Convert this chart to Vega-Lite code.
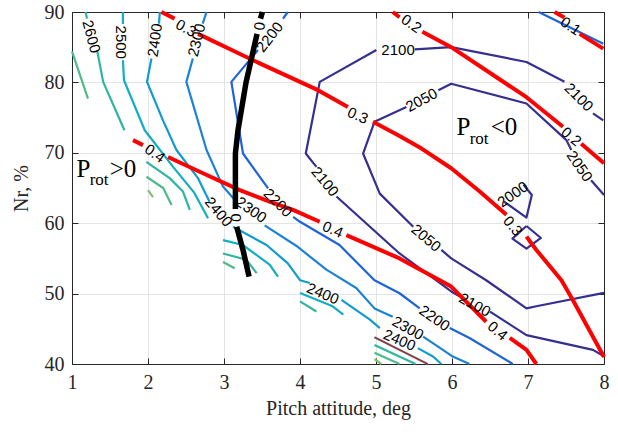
{
  "$schema": "https://vega.github.io/schema/vega-lite/v6.json",
  "width": 532,
  "height": 352,
  "autosize": {"type": "none"},
  "padding": {"left": 72, "top": 12, "right": 14, "bottom": 70},
  "background": "white",
  "config": {"view": {"stroke": null}, "text": {"font": "Liberation Sans", "fontSize": 15, "align": "center", "baseline": "middle", "color": "#000000"}},
  "datasets": {
    "contours": [
      {"lvl": "2100", "seg": "2100a", "x": 7.855, "y": 75.6}, {"lvl": "2100", "seg": "2100a", "x": 7.99, "y": 74.6},
      {"lvl": "2100", "seg": "2100b", "x": 7.48, "y": 80.1}, {"lvl": "2100", "seg": "2100b", "x": 6.98, "y": 82.9}, {"lvl": "2100", "seg": "2100b", "x": 5.99, "y": 85.0}, {"lvl": "2100", "seg": "2100b", "x": 5.51, "y": 84.7},
      {"lvl": "2100", "seg": "2100c", "x": 5.005, "y": 84.6}, {"lvl": "2100", "seg": "2100c", "x": 4.26, "y": 80.07}, {"lvl": "2100", "seg": "2100c", "x": 4.076, "y": 69.9}, {"lvl": "2100", "seg": "2100c", "x": 4.216, "y": 68.0},
      {"lvl": "2100", "seg": "2100d", "x": 4.48, "y": 63.8}, {"lvl": "2100", "seg": "2100d", "x": 5.31, "y": 55.7}, {"lvl": "2100", "seg": "2100d", "x": 5.99, "y": 50.3}, {"lvl": "2100", "seg": "2100d", "x": 6.10, "y": 49.6},
      {"lvl": "2100", "seg": "2100e", "x": 6.50, "y": 47.45}, {"lvl": "2100", "seg": "2100e", "x": 6.98, "y": 44.1}, {"lvl": "2100", "seg": "2100e", "x": 7.855, "y": 42.0}, {"lvl": "2100", "seg": "2100e", "x": 8.0, "y": 41.1},
      {"lvl": "2050", "seg": "2050a", "x": 8.0, "y": 64.0}, {"lvl": "2050", "seg": "2050a", "x": 7.83, "y": 66.1},
      {"lvl": "2050", "seg": "2050b", "x": 7.57, "y": 70.4}, {"lvl": "2050", "seg": "2050b", "x": 7.505, "y": 71.8}, {"lvl": "2050", "seg": "2050b", "x": 6.98, "y": 77.0}, {"lvl": "2050", "seg": "2050b", "x": 5.99, "y": 79.8}, {"lvl": "2050", "seg": "2050b", "x": 5.82, "y": 78.9},
      {"lvl": "2050", "seg": "2050c", "x": 5.40, "y": 76.5}, {"lvl": "2050", "seg": "2050c", "x": 4.98, "y": 74.4}, {"lvl": "2050", "seg": "2050c", "x": 4.83, "y": 69.9}, {"lvl": "2050", "seg": "2050c", "x": 5.05, "y": 64.2}, {"lvl": "2050", "seg": "2050c", "x": 5.49, "y": 59.5},
      {"lvl": "2050", "seg": "2050d", "x": 5.86, "y": 56.2}, {"lvl": "2050", "seg": "2050d", "x": 5.99, "y": 55.0}, {"lvl": "2050", "seg": "2050d", "x": 6.45, "y": 51.9}, {"lvl": "2050", "seg": "2050d", "x": 6.98, "y": 47.9}, {"lvl": "2050", "seg": "2050d", "x": 7.11, "y": 48.2}, {"lvl": "2050", "seg": "2050d", "x": 8.0, "y": 50.1},
      {"lvl": "2000", "seg": "2000a", "x": 6.94, "y": 65.5}, {"lvl": "2000", "seg": "2000a", "x": 7.05, "y": 64.0}, {"lvl": "2000", "seg": "2000a", "x": 6.98, "y": 60.8}, {"lvl": "2000", "seg": "2000a", "x": 6.68, "y": 63.1},
      {"lvl": "2000", "seg": "2000b", "x": 6.98, "y": 59.6}, {"lvl": "2000", "seg": "2000b", "x": 7.17, "y": 57.9}, {"lvl": "2000", "seg": "2000b", "x": 6.98, "y": 56.4}, {"lvl": "2000", "seg": "2000b", "x": 6.795, "y": 57.8}, {"lvl": "2000", "seg": "2000b", "x": 6.98, "y": 59.6},
      {"lvl": "2200", "seg": "2200a", "x": 3.84, "y": 90}, {"lvl": "2200", "seg": "2200a", "x": 3.776, "y": 89.06},
      {"lvl": "2200", "seg": "2200b", "x": 3.447, "y": 84.6}, {"lvl": "2200", "seg": "2200b", "x": 3.097, "y": 80.07}, {"lvl": "2200", "seg": "2200b", "x": 3.25, "y": 69.9}, {"lvl": "2200", "seg": "2200b", "x": 3.58, "y": 64.95},
      {"lvl": "2200", "seg": "2200c", "x": 3.91, "y": 60.9}, {"lvl": "2200", "seg": "2200c", "x": 4.0, "y": 60.2}, {"lvl": "2200", "seg": "2200c", "x": 4.52, "y": 56.9}, {"lvl": "2200", "seg": "2200c", "x": 4.98, "y": 51.9}, {"lvl": "2200", "seg": "2200c", "x": 5.31, "y": 50.05}, {"lvl": "2200", "seg": "2200c", "x": 5.575, "y": 47.9},
      {"lvl": "2200", "seg": "2200d", "x": 5.97, "y": 45.1}, {"lvl": "2200", "seg": "2200d", "x": 6.23, "y": 43.7}, {"lvl": "2200", "seg": "2200d", "x": 6.80, "y": 40.0},
      {"lvl": "2200", "seg": "2200e", "x": 7.14, "y": 90}, {"lvl": "2200", "seg": "2200e", "x": 7.99, "y": 85.5},
      {"lvl": "2300", "seg": "2300a", "x": 2.77, "y": 90}, {"lvl": "2300", "seg": "2300a", "x": 2.72, "y": 88.35},
      {"lvl": "2300", "seg": "2300b", "x": 2.59, "y": 83.4}, {"lvl": "2300", "seg": "2300b", "x": 2.505, "y": 80.07}, {"lvl": "2300", "seg": "2300b", "x": 2.77, "y": 70.4}, {"lvl": "2300", "seg": "2300b", "x": 2.987, "y": 65.2}, {"lvl": "2300", "seg": "2300b", "x": 3.163, "y": 63.05},
      {"lvl": "2300", "seg": "2300c", "x": 3.535, "y": 59.7}, {"lvl": "2300", "seg": "2300c", "x": 3.95, "y": 56.8}, {"lvl": "2300", "seg": "2300c", "x": 4.347, "y": 53.4}, {"lvl": "2300", "seg": "2300c", "x": 4.74, "y": 50.8}, {"lvl": "2300", "seg": "2300c", "x": 4.98, "y": 47.9}, {"lvl": "2300", "seg": "2300c", "x": 5.22, "y": 46.7},
      {"lvl": "2300", "seg": "2300d", "x": 5.62, "y": 43.9}, {"lvl": "2300", "seg": "2300d", "x": 5.88, "y": 42.0}, {"lvl": "2300", "seg": "2300d", "x": 6.01, "y": 41.05}, {"lvl": "2300", "seg": "2300d", "x": 6.23, "y": 40.0},
      {"lvl": "2400", "seg": "2400a", "x": 2.155, "y": 90}, {"lvl": "2400", "seg": "2400a", "x": 2.145, "y": 88.35},
      {"lvl": "2400", "seg": "2400b", "x": 2.045, "y": 83.4}, {"lvl": "2400", "seg": "2400b", "x": 1.987, "y": 80.07}, {"lvl": "2400", "seg": "2400b", "x": 2.197, "y": 74.6}, {"lvl": "2400", "seg": "2400b", "x": 2.374, "y": 70.4}, {"lvl": "2400", "seg": "2400b", "x": 2.658, "y": 66.4}, {"lvl": "2400", "seg": "2400b", "x": 2.81, "y": 63.05},
      {"lvl": "2400", "seg": "2400c", "x": 3.12, "y": 59.5}, {"lvl": "2400", "seg": "2400c", "x": 3.56, "y": 56.9}, {"lvl": "2400", "seg": "2400c", "x": 3.84, "y": 54.3}, {"lvl": "2400", "seg": "2400c", "x": 4.0, "y": 51.9}, {"lvl": "2400", "seg": "2400c", "x": 4.13, "y": 51.5},
      {"lvl": "2400", "seg": "2400d", "x": 4.545, "y": 49.1}, {"lvl": "2400", "seg": "2400d", "x": 4.92, "y": 46.3}, {"lvl": "2400", "seg": "2400d", "x": 5.05, "y": 45.1},
      {"lvl": "2400", "seg": "2400e", "x": 5.55, "y": 42.25}, {"lvl": "2400", "seg": "2400e", "x": 5.75, "y": 41.06}, {"lvl": "2400", "seg": "2400e", "x": 5.86, "y": 40.0},
      {"lvl": "2500", "seg": "2500a", "x": 1.67, "y": 90}, {"lvl": "2500", "seg": "2500a", "x": 1.67, "y": 88.3},
      {"lvl": "2500", "seg": "2500b", "x": 1.67, "y": 83.15}, {"lvl": "2500", "seg": "2500b", "x": 1.684, "y": 80.3}, {"lvl": "2500", "seg": "2500b", "x": 1.957, "y": 73.2}, {"lvl": "2500", "seg": "2500b", "x": 2.33, "y": 68.0}, {"lvl": "2500", "seg": "2500b", "x": 2.61, "y": 64.3}, {"lvl": "2500", "seg": "2500b", "x": 2.79, "y": 60.7},
      {"lvl": "2500", "seg": "2500c", "x": 2.987, "y": 57.6}, {"lvl": "2500", "seg": "2500c", "x": 3.25, "y": 56.9}, {"lvl": "2500", "seg": "2500c", "x": 3.6, "y": 54.1}, {"lvl": "2500", "seg": "2500c", "x": 3.71, "y": 52.4},
      {"lvl": "2500", "seg": "2500d", "x": 4.0, "y": 50.1}, {"lvl": "2500", "seg": "2500d", "x": 4.43, "y": 48.2}, {"lvl": "2500", "seg": "2500d", "x": 4.57, "y": 47.0},
      {"lvl": "2500", "seg": "2500e", "x": 4.98, "y": 43.8}, {"lvl": "2500", "seg": "2500e", "x": 5.68, "y": 40.0},
      {"lvl": "2600", "seg": "2600a", "x": 1.18, "y": 90}, {"lvl": "2600", "seg": "2600a", "x": 1.197, "y": 89.06},
      {"lvl": "2600", "seg": "2600b", "x": 1.33, "y": 84.6}, {"lvl": "2600", "seg": "2600b", "x": 1.41, "y": 80.07}, {"lvl": "2600", "seg": "2600b", "x": 1.69, "y": 73.2},
      {"lvl": "2600", "seg": "2600c", "x": 1.978, "y": 68.7}, {"lvl": "2600", "seg": "2600c", "x": 2.285, "y": 66.4}, {"lvl": "2600", "seg": "2600c", "x": 2.46, "y": 64.5}, {"lvl": "2600", "seg": "2600c", "x": 2.55, "y": 61.9},
      {"lvl": "2600", "seg": "2600d", "x": 2.987, "y": 55.7}, {"lvl": "2600", "seg": "2600d", "x": 3.295, "y": 54.8}, {"lvl": "2600", "seg": "2600d", "x": 3.43, "y": 52.9},
      {"lvl": "2600", "seg": "2600e", "x": 4.0, "y": 48.9}, {"lvl": "2600", "seg": "2600e", "x": 4.216, "y": 47.45},
      {"lvl": "2600", "seg": "2600f", "x": 4.98, "y": 42.7}, {"lvl": "2600", "seg": "2600f", "x": 5.52, "y": 40.0},
      {"lvl": "2700", "seg": "2700a", "x": 1.0, "y": 84.4}, {"lvl": "2700", "seg": "2700a", "x": 1.21, "y": 77.7},
      {"lvl": "2700", "seg": "2700b", "x": 1.98, "y": 66.6}, {"lvl": "2700", "seg": "2700b", "x": 2.2, "y": 65.0}, {"lvl": "2700", "seg": "2700b", "x": 2.31, "y": 62.6},
      {"lvl": "2700", "seg": "2700c", "x": 2.987, "y": 54.5}, {"lvl": "2700", "seg": "2700c", "x": 3.14, "y": 53.6},
      {"lvl": "2700", "seg": "2700d", "x": 4.98, "y": 41.6}, {"lvl": "2700", "seg": "2700d", "x": 5.31, "y": 40.0},
      {"lvl": "2800", "seg": "2800a", "x": 2.0, "y": 64.7}, {"lvl": "2800", "seg": "2800a", "x": 2.066, "y": 63.7},
      {"lvl": "2800", "seg": "2800b", "x": 4.98, "y": 40.7}, {"lvl": "2800", "seg": "2800b", "x": 5.07, "y": 40.0}
    ],
    "ratio": [
      {"seg": "r1a", "x": 7.35, "y": 90}, {"seg": "r1a", "x": 7.48, "y": 89.2},
      {"seg": "r1b", "x": 7.68, "y": 86.9}, {"seg": "r1b", "x": 7.99, "y": 84.8},
      {"seg": "r2a", "x": 5.22, "y": 90}, {"seg": "r2a", "x": 5.31, "y": 89.25},
      {"seg": "r2b", "x": 5.61, "y": 87.2}, {"seg": "r2b", "x": 5.99, "y": 85.0}, {"seg": "r2b", "x": 6.98, "y": 77.9}, {"seg": "r2b", "x": 7.46, "y": 73.7},
      {"seg": "r2c", "x": 7.70, "y": 71.3}, {"seg": "r2c", "x": 8.0, "y": 68.5},
      {"seg": "r3a", "x": 2.176, "y": 90}, {"seg": "r3a", "x": 2.35, "y": 89.06},
      {"seg": "r3b", "x": 2.658, "y": 86.9}, {"seg": "r3b", "x": 3.47, "y": 82.7}, {"seg": "r3b", "x": 4.237, "y": 78.9}, {"seg": "r3b", "x": 4.63, "y": 76.5},
      {"seg": "r3c", "x": 4.96, "y": 74.4}, {"seg": "r3c", "x": 5.31, "y": 72.4}, {"seg": "r3c", "x": 5.6, "y": 70.6}, {"seg": "r3c", "x": 5.99, "y": 67.8}, {"seg": "r3c", "x": 6.365, "y": 64.5}, {"seg": "r3c", "x": 6.716, "y": 61.2},
      {"seg": "r3d", "x": 6.98, "y": 58.1}, {"seg": "r3d", "x": 7.11, "y": 56.2}, {"seg": "r3d", "x": 7.44, "y": 51.9}, {"seg": "r3d", "x": 7.59, "y": 49.1}, {"seg": "r3d", "x": 8.0, "y": 41.0},
      {"seg": "r4a", "x": 1.803, "y": 71.8}, {"seg": "r4a", "x": 1.934, "y": 71.09},
      {"seg": "r4b", "x": 2.263, "y": 69.4}, {"seg": "r4b", "x": 2.68, "y": 67.3}, {"seg": "r4b", "x": 3.207, "y": 64.7}, {"seg": "r4b", "x": 3.6, "y": 63.05}, {"seg": "r4b", "x": 3.908, "y": 61.9}, {"seg": "r4b", "x": 4.259, "y": 60.2},
      {"seg": "r4c", "x": 4.61, "y": 58.3}, {"seg": "r4c", "x": 5.31, "y": 55.0}, {"seg": "r4c", "x": 5.99, "y": 51.0}, {"seg": "r4c", "x": 6.45, "y": 46.0},
      {"seg": "r4d", "x": 6.76, "y": 43.7}, {"seg": "r4d", "x": 6.98, "y": 42.0}, {"seg": "r4d", "x": 7.11, "y": 40.0}
    ],
    "zero": [
      {"seg": "k1", "x": 3.505, "y": 90}, {"seg": "k1", "x": 3.48, "y": 89.06},
      {"seg": "k2", "x": 3.435, "y": 86.9}, {"seg": "k2", "x": 3.29, "y": 80.0}, {"seg": "k2", "x": 3.184, "y": 73.2}, {"seg": "k2", "x": 3.15, "y": 69.9}, {"seg": "k2", "x": 3.15, "y": 62.0},
      {"seg": "k3", "x": 3.167, "y": 59.5}, {"seg": "k3", "x": 3.25, "y": 56.2}, {"seg": "k3", "x": 3.33, "y": 52.4}
    ],
    "thin": [
      {"x": 4.98, "y": 43.8}, {"x": 5.68, "y": 40.0}
    ]
  },
  "encoding": {
    "x": {"field": "x", "type": "quantitative", "scale": {"domain": [1, 8], "nice": false, "zero": false}, "axis": null},
    "y": {"field": "y", "type": "quantitative", "scale": {"domain": [40, 90], "nice": false, "zero": false}, "axis": null}
  },
  "resolve": {"axis": {"x": "independent", "y": "independent"}},
  "layer": [
    {
      "data": {"name": "contours"},
      "mark": {"type": "line", "strokeWidth": 2.2, "strokeJoin": "round"},
      "encoding": {
        "x": {"field": "x", "type": "quantitative", "scale": {"domain": [1, 8], "nice": false, "zero": false},
          "axis": {"orient": "bottom", "values": [1, 2, 3, 4, 5, 6, 7, 8], "title": "Pitch attitude, deg", "grid": true, "gridColor": "#e4e4e4", "tickSize": -6, "tickColor": "#262626", "domainColor": "#262626", "labelFont": "Liberation Serif", "labelFontSize": 20, "labelColor": "#262626", "labelPadding": 14, "labelFlush": false, "titleFont": "Liberation Serif", "titleFontSize": 20, "titleFontWeight": "normal", "titleColor": "#262626", "titlePadding": 6}},
        "y": {"field": "y", "type": "quantitative", "scale": {"domain": [40, 90], "nice": false, "zero": false},
          "axis": {"orient": "left", "values": [40, 50, 60, 70, 80, 90], "title": "Nr, %", "grid": true, "gridColor": "#e4e4e4", "tickSize": -6, "tickColor": "#262626", "domainColor": "#262626", "labelFont": "Liberation Serif", "labelFontSize": 20, "labelColor": "#262626", "labelPadding": 14, "labelFlush": false, "titleFont": "Liberation Serif", "titleFontSize": 20, "titleFontWeight": "normal", "titleColor": "#262626", "titlePadding": 13}},
        "detail": {"field": "seg"},
        "order": {"value": null},
        "color": {"field": "lvl", "type": "nominal", "legend": null,
          "scale": {"domain": ["2000", "2050", "2100", "2200", "2300", "2400", "2500", "2600", "2700", "2800"],
            "range": ["#35308f", "#35308f", "#35308f", "#1d63d9", "#1b82d6", "#119ccd", "#12aec1", "#2fb5a0", "#4fba8c", "#80be74"]}}
      }
    },
    {
      "data": {"name": "thin"},
      "mark": {"type": "line", "strokeWidth": 1.2, "color": "#ff0000"},
      "encoding": {}
    },
    {
      "data": {"name": "ratio"},
      "mark": {"type": "line", "strokeWidth": 4, "color": "#ff0000", "strokeJoin": "round"},
      "encoding": {
        "x": {"field": "x", "type": "quantitative", "scale": {"domain": [1, 8], "nice": false, "zero": false},
          "axis": {"orient": "top", "values": [1, 2, 3, 4, 5, 6, 7, 8], "labels": false, "title": null, "grid": false, "tickSize": -6, "tickColor": "#262626", "domainColor": "#262626"}},
        "y": {"field": "y", "type": "quantitative", "scale": {"domain": [40, 90], "nice": false, "zero": false},
          "axis": {"orient": "right", "values": [40, 50, 60, 70, 80, 90], "labels": false, "title": null, "grid": false, "tickSize": -6, "tickColor": "#262626", "domainColor": "#262626"}},
        "detail": {"field": "seg"},
        "order": {"value": null}
      }
    },
    {
      "data": {"name": "zero"},
      "mark": {"type": "line", "strokeWidth": 5.5, "color": "#000000", "strokeJoin": "round"},
      "encoding": {"detail": {"field": "seg"}, "order": {"value": null}}
    },
    {"data": {"values": [{"x": 5.29, "y": 84.65, "t": "2100"}]}, "mark": {"type": "text", "angle": 0}, "encoding": {"text": {"field": "t"}}},
    {"data": {"values": [{"x": 5.60, "y": 77.5, "t": "2050"}]}, "mark": {"type": "text", "angle": -28}, "encoding": {"text": {"field": "t"}}},
    {"data": {"values": [{"x": 6.80, "y": 64.1, "t": "2000"}]}, "mark": {"type": "text", "angle": -35}, "encoding": {"text": {"field": "t"}}},
    {"data": {"values": [{"x": 3.60, "y": 86.45, "t": "2200"}]}, "mark": {"type": "text", "angle": -52}, "encoding": {"text": {"field": "t"}}},
    {"data": {"values": [{"x": 2.64, "y": 86.0, "t": "2300"}]}, "mark": {"type": "text", "angle": -76}, "encoding": {"text": {"field": "t"}}},
    {"data": {"values": [{"x": 2.09, "y": 86.0, "t": "2400"}, {"x": 3.47, "y": 88.0, "t": "0"}]}, "mark": {"type": "text", "angle": -82}, "encoding": {"text": {"field": "t"}}},
    {"data": {"values": [{"x": 1.255, "y": 86.5, "t": "2600"}]}, "mark": {"type": "text", "angle": 75}, "encoding": {"text": {"field": "t"}}},
    {"data": {"values": [{"x": 1.65, "y": 85.7, "t": "2500"}, {"x": 3.163, "y": 60.8, "t": "0"}]}, "mark": {"type": "text", "angle": 90}, "encoding": {"text": {"field": "t"}}},
    {"data": {"values": [{"x": 4.76, "y": 75.3, "t": "0.3"}, {"x": 4.43, "y": 59.1, "t": "0.4"}, {"x": 4.30, "y": 50.0, "t": "2400"}, {"x": 5.31, "y": 43.4, "t": "2400"}]}, "mark": {"type": "text", "angle": 23}, "encoding": {"text": {"field": "t"}}},
    {"data": {"values": [{"x": 2.5, "y": 87.7, "t": "0.3"}, {"x": 5.42, "y": 45.1, "t": "2300"}, {"x": 6.30, "y": 48.4, "t": "2100"}]}, "mark": {"type": "text", "angle": 29}, "encoding": {"text": {"field": "t"}}},
    {"data": {"values": [{"x": 5.466, "y": 88.35, "t": "0.2"}, {"x": 7.56, "y": 88.0, "t": "0.1"}, {"x": 3.36, "y": 61.9, "t": "2300"}, {"x": 5.77, "y": 46.5, "t": "2200"}, {"x": 2.09, "y": 69.9, "t": "0.4"}]}, "mark": {"type": "text", "angle": 35}, "encoding": {"text": {"field": "t"}}},
    {"data": {"values": [{"x": 7.57, "y": 72.3, "t": "0.2"}, {"x": 5.66, "y": 57.9, "t": "2050"}, {"x": 6.60, "y": 44.7, "t": "0.4"}]}, "mark": {"type": "text", "angle": 40}, "encoding": {"text": {"field": "t"}}},
    {"data": {"values": [{"x": 7.67, "y": 77.9, "t": "2100"}, {"x": 3.71, "y": 62.9, "t": "2200"}]}, "mark": {"type": "text", "angle": 45}, "encoding": {"text": {"field": "t"}}},
    {"data": {"values": [{"x": 4.33, "y": 65.9, "t": "2100"}, {"x": 2.93, "y": 61.6, "t": "2400"}, {"x": 6.80, "y": 59.6, "t": "0.3"}]}, "mark": {"type": "text", "angle": 50}, "encoding": {"text": {"field": "t"}}},
    {"data": {"values": [{"x": 7.68, "y": 68.1, "t": "2050"}]}, "mark": {"type": "text", "angle": 55}, "encoding": {"text": {"field": "t"}}},
    {"data": {"values": [{"x": 1.058, "y": 66.55, "t": "P"}, {"x": 6.06, "y": 72.5, "t": "P"}, {"x": 1.497, "y": 66.55, "t": ">0"}, {"x": 6.51, "y": 72.5, "t": "<0"}]}, "mark": {"type": "text", "font": "Liberation Serif", "fontSize": 25, "align": "left", "baseline": "alphabetic"}, "encoding": {"text": {"field": "t"}}},
    {"data": {"values": [{"x": 1.233, "y": 65.4, "t": "rot"}, {"x": 6.233, "y": 71.2, "t": "rot"}]}, "mark": {"type": "text", "font": "Liberation Serif", "fontSize": 17, "align": "left", "baseline": "alphabetic"}, "encoding": {"text": {"field": "t"}}}
  ]
}
